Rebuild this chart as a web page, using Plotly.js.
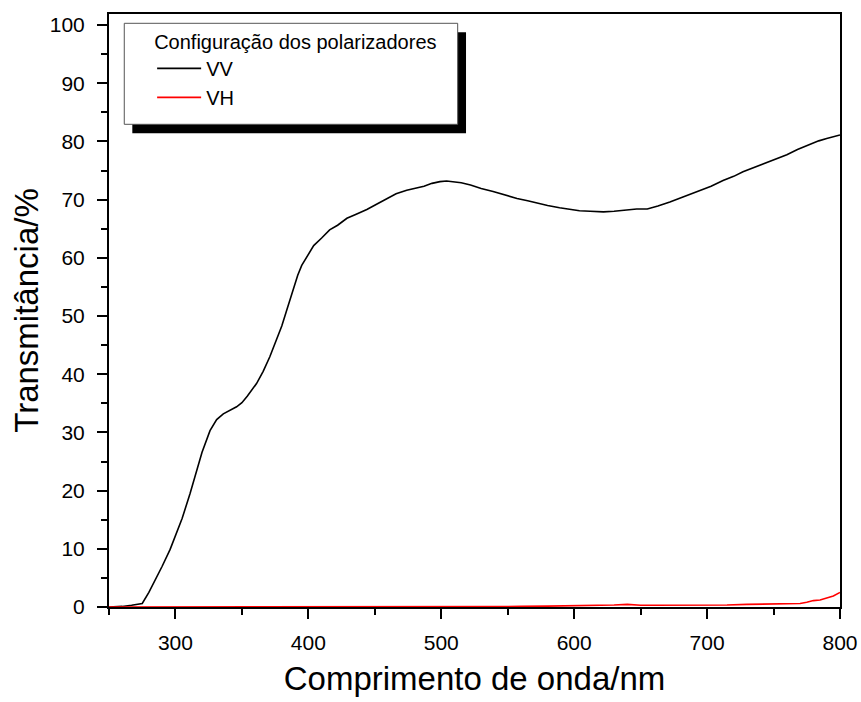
<!DOCTYPE html>
<html>
<head>
<meta charset="utf-8">
<script src="https://cdn.plot.ly/plotly-3.0.1.min.js"></script>
<style>html,body{margin:0;padding:0;background:#fff;}#chart{width:861px;height:702px;}</style>
</head>
<body>
<div id="chart"></div>
<script>
// Wavelength (nm) and transmittance (%)
const vvWavelength = [250, 260, 267, 275, 280, 285, 290, 296, 300, 305, 311, 316, 320, 326, 331, 336, 341, 346, 350, 354, 361, 366, 371, 376, 380, 384, 388, 392, 395, 400, 404, 410, 416, 422, 429, 436, 444, 452, 459, 466, 474, 480, 487, 493, 499, 504, 509, 515, 522, 530, 539, 548, 557, 565, 572, 580, 589, 597, 604, 612, 622, 630, 640, 647, 655, 663, 672, 683, 695, 703, 712, 720, 727, 735, 742, 751, 760, 768, 777, 784, 790, 795, 800];
const vvTransmittance = [0, 0.1, 0.3, 0.6, 2.5, 4.7, 7.0, 9.9, 12.3, 15.2, 19.5, 23.5, 26.6, 30.3, 32.2, 33.2, 33.8, 34.4, 35.1, 36.2, 38.4, 40.5, 43.0, 45.8, 48.3, 51.2, 54.2, 57.0, 58.7, 60.6, 62.1, 63.4, 64.8, 65.6, 66.8, 67.5, 68.3, 69.3, 70.2, 71.0, 71.6, 71.9, 72.3, 72.8, 73.1, 73.2, 73.1, 72.9, 72.5, 71.9, 71.4, 70.8, 70.2, 69.8, 69.4, 69.0, 68.6, 68.3, 68.1, 68.0, 67.9, 68.0, 68.3, 68.4, 68.4, 68.9, 69.6, 70.6, 71.6, 72.3, 73.3, 74.0, 74.8, 75.5, 76.2, 77.0, 77.7, 78.6, 79.5, 80.1, 80.5, 80.8, 81.1];

const vhWavelength = [250, 280, 320, 360, 400, 440, 480, 520, 560, 580, 600, 615, 630, 640, 650, 660, 675, 690, 700, 715, 730, 745, 760, 770, 775, 780, 785, 790, 795, 800];
const vhTransmittance = [0, 0, 0.02, 0.02, 0.05, 0.04, 0.05, 0.08, 0.1, 0.15, 0.2, 0.25, 0.35, 0.45, 0.3, 0.3, 0.3, 0.35, 0.4, 0.35, 0.45, 0.5, 0.55, 0.6, 0.8, 1.1, 1.2, 1.6, 1.9, 2.5];

const xTickVals = [300, 400, 500, 600, 700, 800];
const yTickVals = [0, 10, 20, 30, 40, 50, 60, 70, 80, 90, 100];

const FONT = "'Liberation Sans', Arial, sans-serif";

const traces = [
  {x: vvWavelength, y: vvTransmittance, type: 'scatter', mode: 'lines', name: 'VV',
   line: {color: '#000000', width: 1.6}},
  {x: vhWavelength, y: vhTransmittance, type: 'scatter', mode: 'lines', name: 'VH',
   line: {color: '#ff0000', width: 1.6}}
];

const layout = {
  width: 861, height: 702,
  margin: {l: 109, r: 21, t: 14, b: 95},
  paper_bgcolor: '#ffffff', plot_bgcolor: '#ffffff',
  font: {family: FONT, color: '#000000', size: 21},
  showlegend: true,
  legend: {
    x: 0.059, y: 0.985, xanchor: 'left', yanchor: 'top',
    bgcolor: 'rgba(0,0,0,0)', borderwidth: 0,
    font: {family: FONT, size: 20, color: '#000'},
    title: {text: 'Configuração dos polarizadores', font: {family: FONT, size: 20, color: '#000'}},
    tracegroupgap: 0, itemwidth: 44
  },
  xaxis: {
    range: [250, 800], showgrid: false, zeroline: false,
    showline: true, linecolor: '#000', linewidth: 2, mirror: true,
    ticks: 'outside', ticklen: 10, tickwidth: 2, tickcolor: '#000',
    tickvals: xTickVals, ticktext: xTickVals.map(String),
    tickfont: {family: FONT, size: 21},
    ticklabelstandoff: 6,
    minor: {dtick: 50, tick0: 250, ticks: 'outside', ticklen: 6, tickwidth: 2, tickcolor: '#000', showgrid: false},
    layer: 'below traces',
    title: {text: 'Comprimento de onda/nm', font: {family: FONT, size: 33}, standoff: 14}
  },
  yaxis: {
    range: [0, 101.9], showgrid: false, zeroline: false,
    showline: true, linecolor: '#000', linewidth: 2, mirror: true,
    ticks: 'outside', ticklen: 10, tickwidth: 2, tickcolor: '#000',
    tickvals: yTickVals, ticktext: yTickVals.map(String),
    tickfont: {family: FONT, size: 21},
    ticklabelstandoff: 8,
    minor: {dtick: 5, tick0: 0, ticks: 'outside', ticklen: 6, tickwidth: 2, tickcolor: '#000', showgrid: false},
    layer: 'below traces',
    title: {text: 'Transmitância/%', font: {family: FONT, size: 33}, standoff: 1}
  },
  shapes: [
    {type: 'rect', xref: 'paper', yref: 'paper', x0: 0.0319, x1: 0.4884, y0: 0.7988, y1: 0.9691,
     fillcolor: '#000000', line: {width: 0}, layer: 'above'},
    {type: 'rect', xref: 'paper', yref: 'paper', x0: 0.0209, x1: 0.477, y0: 0.814, y1: 0.9843,
     fillcolor: '#ffffff', line: {width: 1, color: '#555555'}, layer: 'above'}
  ]
};

Plotly.newPlot('chart', traces, layout, {displayModeBar: false, staticPlot: true});
</script>
</body>
</html>
